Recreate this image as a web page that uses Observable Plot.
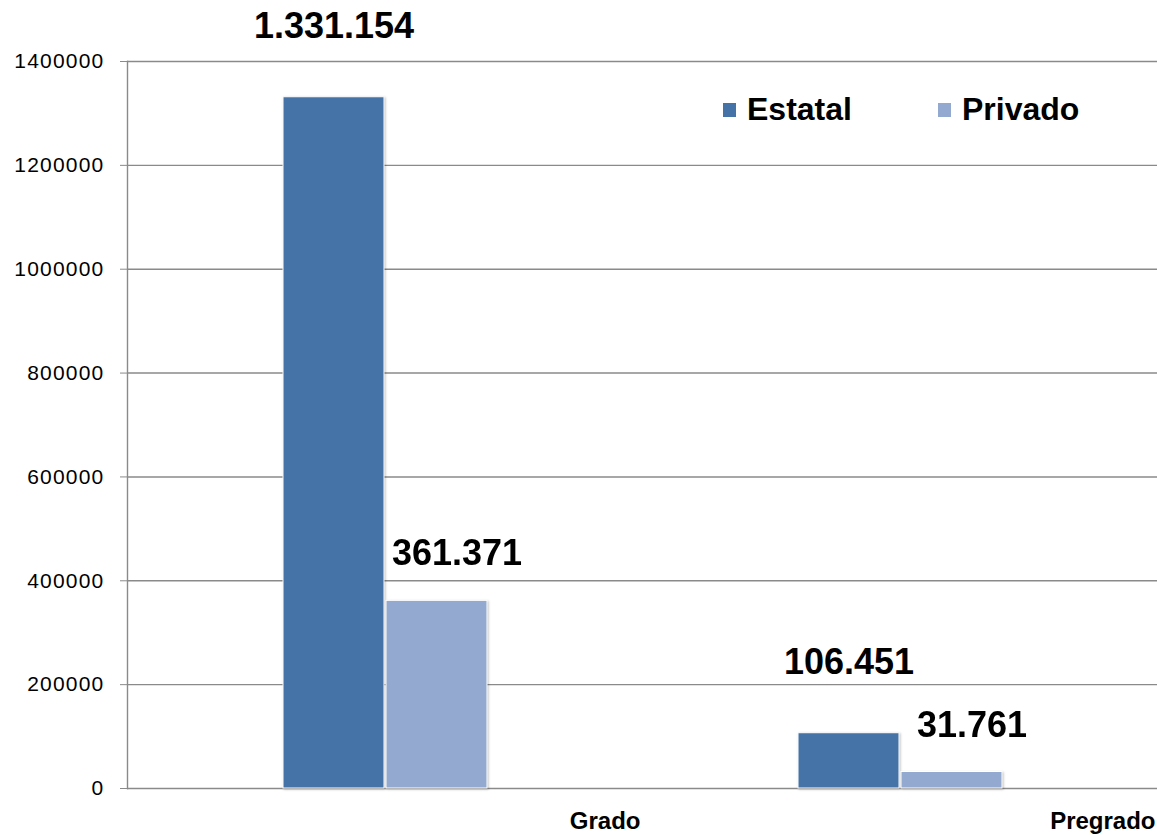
<!DOCTYPE html>
<html>
<head>
<meta charset="utf-8">
<script src="https://cdn.jsdelivr.net/npm/d3@7"></script>
<script src="https://cdn.jsdelivr.net/npm/@observablehq/plot@0.6"></script>
<style>
  html, body { margin: 0; padding: 0; background: #fff; }
  #wrap { position: relative; width: 1157px; height: 835px; font-family: "Liberation Sans", Arial, sans-serif; }
  #legend { position: absolute; top: 91px; left: 723px; display: flex; align-items: center; font-weight: bold; font-size: 32px; color: #000; }
  #legend .item { display: flex; align-items: center; }
  #legend .sw { width: 13px; height: 14px; margin-right: 11px; }
  g[aria-label="y-axis tick label"] text { letter-spacing: 1.2px; }
  g[aria-label="bar"] { filter: drop-shadow(1px 1px 1px rgba(0,0,0,0.25)); }
</style>
</head>
<body>
<div id="wrap"></div>
<script>
const categories = ["Grado", "Pregrado"];
const series = ["Estatal", "Privado"];
const estatal = [1331154, 106451];
const privado = [361371, 31761];
const yTicks = [0, 200000, 400000, 600000, 800000, 1000000, 1200000, 1400000];
const colors = ["#4572A7", "#93A9CF"];

const data = categories.flatMap((c, i) => [
  {cat: c, serie: "Estatal", value: estatal[i]},
  {cat: c, serie: "Privado", value: privado[i]}
]);

const esFmt = d3.formatLocale({decimal: ",", thousands: ".", grouping: [3], currency: ["", ""]}).format(",");

const chart = Plot.plot({
  width: 1157,
  height: 835,
  marginLeft: 127,
  marginRight: 0,
  marginTop: 61,
  marginBottom: 47,
  style: {fontFamily: "Liberation Sans, Arial, sans-serif", background: "#fff", overflow: "visible"},
  fx: {domain: categories, padding: 0, axis: null},
  x: {domain: series, paddingInner: 0.02, paddingOuter: 1.5, axis: null},
  y: {domain: [0, 1400000], axis: null},
  color: {domain: series, range: colors},
  marks: [
    Plot.gridY(yTicks, {stroke: "#8a8a8a", strokeOpacity: 1, strokeWidth: 1.4}),
    Plot.axisY(yTicks, {tickSize: 7, tickPadding: 16, stroke: "#8a8a8a", fontSize: 21, label: null, tickFormat: d3.format("d")}),
    Plot.frame({anchor: "left", stroke: "#8a8a8a", strokeWidth: 1.4, facetAnchor: "left"}),
    Plot.barY(data, {fx: "cat", x: "serie", y: "value", fill: "serie", stroke: "#fff", strokeWidth: 1}),
    Plot.text(data.filter(d => d.serie === "Estatal"), {
      fx: "cat", x: "serie", y: "value", text: d => esFmt(d.value),
      dy: -71, lineAnchor: "middle", fontSize: 36, fontWeight: "bold", fill: "#000"
    }),
    Plot.text(data.filter(d => d.serie === "Privado"), {
      fx: "cat", x: "serie", y: "value", text: d => esFmt(d.value),
      dx: 20, dy: -47, lineAnchor: "middle", fontSize: 36, fontWeight: "bold", fill: "#000"
    }),
    Plot.text(categories, {
      fx: d => d, text: d => d, frameAnchor: "bottom-right", textAnchor: "end",
      lineAnchor: "middle", dy: 33, dx: -2, fontSize: 24, fontWeight: "bold", fill: "#000"
    })
  ]
});

const wrap = document.getElementById("wrap");
wrap.appendChild(chart);

const legend = document.createElement("div");
legend.id = "legend";
series.forEach((s, i) => {
  const item = document.createElement("div");
  item.className = "item";
  if (i > 0) item.style.marginLeft = "86px";
  const sw = document.createElement("span");
  sw.className = "sw";
  sw.style.background = colors[i];
  const t = document.createElement("span");
  t.textContent = s;
  item.appendChild(sw);
  item.appendChild(t);
  legend.appendChild(item);
});
wrap.appendChild(legend);
</script>
</body>
</html>
